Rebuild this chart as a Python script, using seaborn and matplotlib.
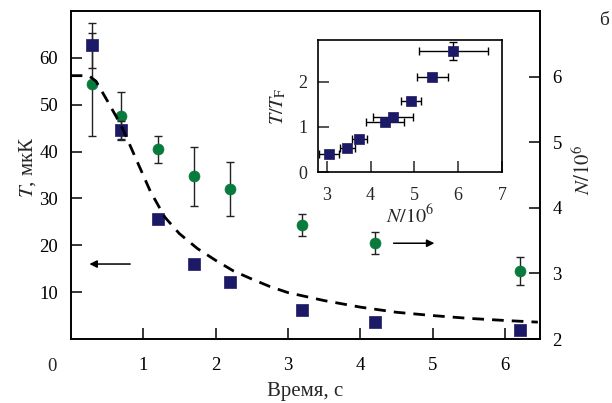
import numpy as np
import pandas as pd
import matplotlib
matplotlib.use("Agg")
import matplotlib.pyplot as plt
import seaborn as sns

# Time after release, s
time_s = [0.3, 0.7, 1.2, 1.7, 2.2, 3.2, 4.2, 6.2]
# Temperature, uK (squares, left axis)
temp_uK = [62.7, 44.6, 25.6, 16.0, 12.1, 6.2, 3.7, 2.0]
temp_err = [4.8, 2.0, 0.8, 0.0, 0.0, 0.0, 0.0, 0.0]
# Atom number / 1e6 (circles, right axis)
atoms_M = [5.88, 5.40, 4.89, 4.48, 4.29, 3.74, 3.46, 3.04]
atoms_err = [0.78, 0.36, 0.21, 0.45, 0.41, 0.17, 0.17, 0.21]

# Model cooling curve (dashed)
model_t = [0.0, 0.25, 0.35, 0.5, 0.7, 0.9, 1.1, 1.3, 1.5, 1.75, 2.0, 2.25,
           2.5, 2.75, 3.0, 3.5, 4.0, 4.5, 5.0, 5.5, 6.0, 6.45]
model_T = [56.2, 56.2, 55.0, 51.0, 45.5, 38.5, 31.5, 26.0, 22.5, 19.3, 16.8,
           14.5, 12.8, 11.2, 9.9, 8.2, 6.8, 5.7, 5.0, 4.4, 3.95, 3.6]

# Inset: T/T_F versus N/1e6
inset_N = [3.05, 3.47, 3.74, 4.33, 4.51, 4.92, 5.41, 5.89]
inset_N_err = [0.235, 0.175, 0.17, 0.43, 0.46, 0.23, 0.35, 0.79]
inset_TTF = [0.39, 0.53, 0.72, 1.10, 1.21, 1.58, 2.11, 2.67]
inset_TTF_err = [0.0, 0.0, 0.0, 0.0, 0.0, 0.0, 0.0, 0.2]

x_ticks = [1, 2, 3, 4, 5, 6]
left_ticks = [10, 20, 30, 40, 50, 60]
right_ticks = [2, 3, 4, 5, 6]
inset_x_ticks = [3, 4, 5, 6, 7]
inset_y_ticks = [0, 1, 2]

NAVY = "#1c1a66"
GREEN = "#077a3c"
ERR = "#222222"

sns.set_theme(style="ticks")
plt.rcParams["font.family"] = ["Liberation Serif", "DejaVu Serif"]
plt.rcParams["mathtext.fontset"] = "stix"
plt.rcParams["axes.linewidth"] = 1.2

main_df = pd.DataFrame({"t": time_s, "T": temp_uK, "N": atoms_M})
model_df = pd.DataFrame({"t": model_t, "T": model_T})
inset_df = pd.DataFrame({"N": inset_N, "TTF": inset_TTF})

fig = plt.figure(figsize=(6.12, 4.03), dpi=100)
ax = fig.add_axes([0.1155, 0.1588, 0.7669, 0.8139])
ax2 = ax.twinx()

# Circles: atom number on right axis
ax2.errorbar(time_s, atoms_M, yerr=atoms_err, fmt="none", ecolor=ERR,
             elinewidth=1.0, capsize=3.2, capthick=1.0, zorder=2)
sns.scatterplot(data=main_df, x="t", y="N", ax=ax2, marker="o", s=62,
                color=GREEN, edgecolor=GREEN, linewidth=0.5, zorder=3,
                legend=False)

# Squares + dashed model: temperature on left axis (drawn on top)
ax.set_zorder(ax2.get_zorder() + 1)
ax.patch.set_visible(False)
ax.errorbar(time_s, temp_uK, yerr=temp_err, fmt="none", ecolor=ERR,
            elinewidth=1.0, capsize=3.2, capthick=1.0, zorder=2)
sns.lineplot(data=model_df, x="t", y="T", ax=ax, color="black", lw=2.0,
             dashes=False, zorder=4)
ax.lines[-1].set_dashes((4.2, 2.9))
sns.scatterplot(data=main_df, x="t", y="T", ax=ax, marker="s", s=80,
                color=NAVY, edgecolor=NAVY, linewidth=0.5, zorder=3,
                legend=False)

ax.set_xlim(0, 6.48)
ax.set_ylim(0, 70)
ax2.set_ylim(2, 7)
ax.set_xticks(x_ticks)
ax.set_xticklabels([str(v) for v in x_ticks])
ax.set_yticks(left_ticks)
ax2.set_yticks(right_ticks)

tick_kw = dict(direction="in", length=8, width=1.1, colors="black", labelsize=13.5)
ax.tick_params(axis="x", pad=13, **tick_kw)
ax.tick_params(axis="y", pad=9, left=True, right=False, **tick_kw)
ax2.tick_params(axis="y", pad=9, left=False, right=True, **tick_kw)
for a in (ax, ax2):
    for s in a.spines.values():
        s.set_visible(True)
        s.set_linewidth(1.2)
        s.set_color("black")

ax.text(-0.04, -0.058, "0", transform=ax.transAxes, ha="center", va="top",
        fontsize=13.5)

ax.set_xlabel("Время, с", fontsize=15)
ax.xaxis.set_label_coords(0.5, -0.13)
ax.set_ylabel("$T$, мкК", fontsize=15)
ax.yaxis.set_label_coords(-0.07, 0.525)
ax2.set_ylabel("$N/10^6$", fontsize=15)
ax2.yaxis.set_label_coords(1.07, 0.515)

# Direction arrows pointing to each axis
ax.annotate("", xy=(0.22, 16.0), xytext=(0.86, 16.0),
            arrowprops=dict(arrowstyle="-|>", color="black", lw=1.1,
                            mutation_scale=11))
ax2.annotate("", xy=(5.06, 3.46), xytext=(4.42, 3.46),
             arrowprops=dict(arrowstyle="-|>", color="black", lw=1.1,
                             mutation_scale=11))

fig.text(0.987, 0.948, "б", ha="center", va="center", fontsize=14)

# Inset
axi = fig.add_axes([0.5204, 0.5732, 0.2999, 0.3275])
axi.set_zorder(ax.get_zorder() + 1)
axi.errorbar(inset_N, inset_TTF, xerr=inset_N_err, yerr=inset_TTF_err,
             fmt="none", ecolor="black", elinewidth=1.0, capsize=3.2,
             capthick=1.0, zorder=2)
sns.scatterplot(data=inset_df, x="N", y="TTF", ax=axi, marker="s", s=50,
                color=NAVY, edgecolor=NAVY, linewidth=0.5, zorder=3,
                legend=False)
axi.set_xlim(2.81, 7)
axi.set_ylim(0, 2.92)
axi.set_xticks(inset_x_ticks)
axi.set_yticks(inset_y_ticks)
axi.tick_params(axis="x", direction="in", length=8, width=1.1, pad=11,
                labelsize=13)
axi.tick_params(axis="y", direction="in", length=8, width=1.1, pad=8,
                labelsize=13)
for s in axi.spines.values():
    s.set_linewidth(1.2)
    s.set_color("black")
axi.set_xlabel("$N/10^6$", fontsize=14.5, labelpad=0)
axi.set_ylabel("$T/T_\\mathrm{F}$", fontsize=14.5, labelpad=7)

fig.savefig("out.png", dpi=100)
